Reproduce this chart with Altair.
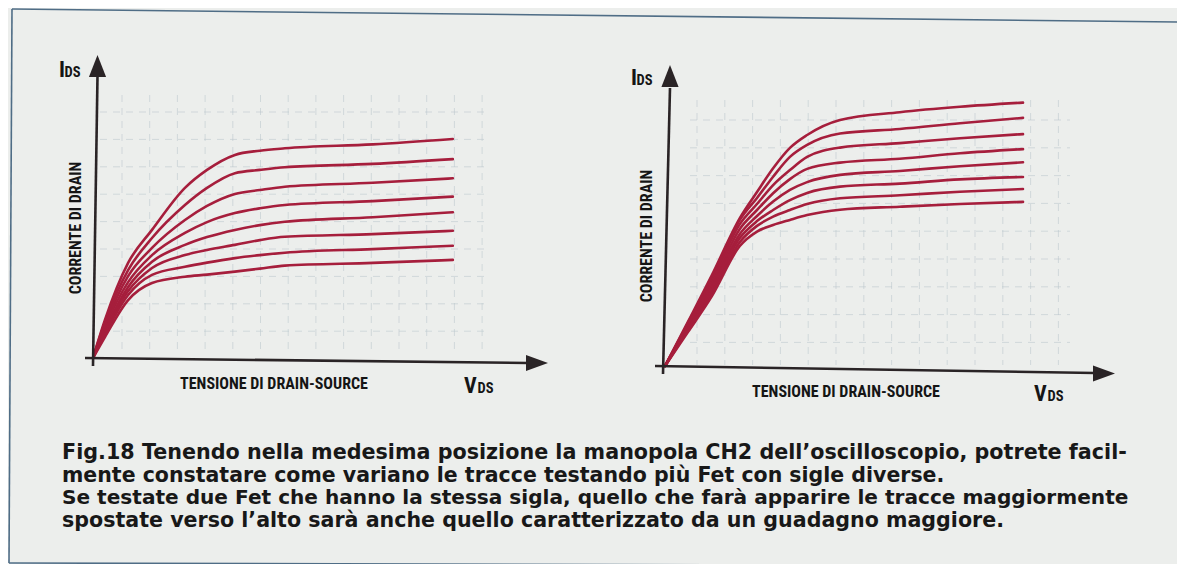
import altair as alt
import pandas as pd

W, H = 1169, 556
OFF = 8
BG = "#eceeec"
RED = "#a61e3c"
INK = "#2a2426"
COND = "Roboto Condensed, Liberation Sans, Arial, sans-serif"
CAPF = "DejaVu Sans, Liberation Sans, sans-serif"

# ---------------- data ----------------
# Panel 1 (left): Vds in arbitrary units (0..10), Ids in arbitrary units
vds1 = [0, 0.33, 0.97, 1.63, 2.54, 3.15, 3.92, 4.61, 5.30, 7.73, 9.94]
ids1 = [
    [0, 1.27, 3.17, 4.27, 5.67, 6.27, 6.77, 6.91, 6.99, 7.12, 7.30],
    [0, 1.20, 2.93, 4.00, 5.10, 5.67, 6.16, 6.27, 6.36, 6.47, 6.63],
    [0, 1.10, 2.73, 3.67, 4.60, 5.07, 5.47, 5.60, 5.71, 5.84, 5.99],
    [0, 1.03, 2.53, 3.43, 4.17, 4.53, 4.83, 4.99, 5.10, 5.23, 5.38],
    [0, 0.93, 2.37, 3.21, 3.77, 4.03, 4.27, 4.43, 4.54, 4.69, 4.86],
    [0, 0.87, 2.23, 3.00, 3.43, 3.60, 3.77, 3.93, 4.04, 4.13, 4.24],
    [0, 0.80, 2.10, 2.77, 3.04, 3.18, 3.33, 3.43, 3.51, 3.63, 3.74],
    [0, 0.70, 1.93, 2.50, 2.71, 2.78, 2.88, 2.98, 3.08, 3.17, 3.27],
]
# Panel 2 (right)
vds2 = [0, 0.64, 1.31, 2.09, 2.57, 3.02, 3.49, 3.97, 4.89, 6.56, 8.24, 10.0]
ids2 = [
    [0, 1.47, 3.03, 4.93, 5.80, 6.59, 7.27, 7.70, 8.20, 8.46, 8.64, 8.78],
    [0, 1.43, 2.93, 4.87, 5.60, 6.31, 6.97, 7.37, 7.75, 7.90, 8.09, 8.27],
    [0, 1.37, 2.83, 4.73, 5.40, 6.03, 6.53, 6.97, 7.28, 7.43, 7.59, 7.73],
    [0, 1.33, 2.73, 4.57, 5.20, 5.76, 6.23, 6.57, 6.78, 6.91, 7.09, 7.23],
    [0, 1.27, 2.63, 4.40, 5.00, 5.48, 5.87, 6.13, 6.37, 6.50, 6.66, 6.79],
    [0, 1.23, 2.53, 4.27, 4.83, 5.20, 5.53, 5.77, 5.98, 6.08, 6.22, 6.30],
    [0, 1.20, 2.43, 4.13, 4.67, 4.98, 5.20, 5.40, 5.59, 5.69, 5.81, 5.90],
    [0, 1.13, 2.33, 4.00, 4.48, 4.70, 4.87, 5.03, 5.21, 5.31, 5.40, 5.47],
]

caption = [
    "Fig.18 Tenendo nella medesima posizione la manopola CH2 dell’oscilloscopio, potrete facil-",
    "mente constatare come variano le tracce testando più Fet con sigle diverse.",
    "Se testate due Fet che hanno la stessa sigla, quello che farà apparire le tracce maggiormente",
    "spostate verso l’alto sarà anche quello caratterizzato da un guadagno maggiore.",
]
ylabel = "CORRENTE DI DRAIN"
xlabel = "TENSIONE DI DRAIN-SOURCE"


# ---------------- helpers ----------------
def panel(vds, curves, origin, ppx, ppy, xaxis_px, yaxis_px, xarrow_px, yarrow_px, gridx, gridy, gbox):
    ox, oy = origin
    ux = lambda p: (p - ox) / ppx
    uy = lambda p: (oy - p) / ppy
    xs = alt.Scale(domain=[ux(OFF), ux(OFF + W)], nice=False, zero=False)
    ys = alt.Scale(domain=[uy(OFF + H), uy(OFF)], nice=False, zero=False)

    rows = []
    for i, c in enumerate(curves):
        for v, a in zip(vds, c):
            rows.append({"curve": i, "V": v, "I": a})
    cdf = pd.DataFrame(rows)

    g = []
    x0, x1, y0, y1 = gbox
    for gx in gridx:
        g.append({"x": ux(gx), "x2": ux(gx), "y": uy(y0), "y2": uy(y1)})
    for gy in gridy:
        g.append({"x": ux(x0), "x2": ux(x1), "y": uy(gy), "y2": uy(gy)})
    gdf = pd.DataFrame(g)

    grid = alt.Chart(gdf).mark_rule(color="#b9c6cc", strokeWidth=1, opacity=0.55,
                                    strokeDash=[7, 6]).encode(
        x=alt.X("x:Q", scale=xs, axis=None), x2="x2:Q",
        y=alt.Y("y:Q", scale=ys, axis=None), y2="y2:Q")

    lines = alt.Chart(cdf).mark_line(color=RED, strokeWidth=2.6, interpolate="monotone",
                                     strokeCap="round").encode(
        x=alt.X("V:Q", scale=xs, axis=None),
        y=alt.Y("I:Q", scale=ys, axis=None),
        detail="curve:N")

    (ax0, ay0), (ax1, ay1) = xaxis_px
    (bx0, by0), (bx1, by1) = yaxis_px
    adf = pd.DataFrame([
        {"x": ux(ax0), "x2": ux(ax1), "y": uy(ay0), "y2": uy(ay1)},
        {"x": ux(bx0), "x2": ux(bx1), "y": uy(by0), "y2": uy(by1)},
    ])
    axes = alt.Chart(adf).mark_rule(color=INK, strokeWidth=2.6).encode(
        x=alt.X("x:Q", scale=xs, axis=None), x2="x2:Q",
        y=alt.Y("y:Q", scale=ys, axis=None), y2="y2:Q")

    xa = alt.Chart(pd.DataFrame([{"x": ux(xarrow_px[0]), "y": uy(xarrow_px[1])}])).mark_point(
        shape="M-1,-0.73L1,0L-1,0.73Z", size=484, filled=True, color=INK, opacity=1).encode(
        x=alt.X("x:Q", scale=xs, axis=None), y=alt.Y("y:Q", scale=ys, axis=None))
    ya = alt.Chart(pd.DataFrame([{"x": ux(yarrow_px[0]), "y": uy(yarrow_px[1])}])).mark_point(
        shape="M-0.78,1L0,-1L0.78,1Z", size=484, filled=True, color=INK, opacity=1).encode(
        x=alt.X("x:Q", scale=xs, axis=None), y=alt.Y("y:Q", scale=ys, axis=None))
    return alt.layer(grid, lines, axes, xa, ya)


def txt(s, px, py, size, font=COND, weight="bold", angle=0, align="left",
        baseline="alphabetic", color="#151515"):
    return alt.Chart(pd.DataFrame({"t": [s]})).mark_text(
        font=font, fontSize=size, fontWeight=weight, angle=angle, align=align,
        baseline=baseline, color=color).encode(
        x=alt.value(px - OFF), y=alt.value(py - OFF), text="t:N")


p1 = panel(vds1, ids1, (93, 358), 36.2, 30,
           ((85, 358), (528, 363)), ((93, 366), (97.5, 76)),
           (537, 363), (97.5, 66),
           [122 + 27.7 * k for k in range(14)], [112 + 27.4 * k for k in range(9)],
           (100, 490, 95, 352))
p2 = panel(vds2, ids2, (665, 366), 35.8, 30,
           ((655, 366), (1095, 373)), ((663, 374), (670, 88)),
           (1104, 373.5), (670, 76),
           [697 + 27.8 * k for k in range(14)], [120 + 27.8 * k for k in range(9)],
           (690, 1070, 100, 365))

texts = [
    # panel 1
    txt("I", 59, 77, 22), txt("DS", 64.5, 77, 14.5),
    txt(ylabel, 81, 228, 16, angle=270, align="center"),
    txt(xlabel, 274, 389, 16, align="center"),
    txt("V", 464, 393, 22), txt("DS", 477.5, 393, 14.5),
    # panel 2
    txt("I", 631, 85, 22), txt("DS", 636.5, 85, 14.5),
    txt(ylabel, 652, 236, 16, angle=270, align="center"),
    txt(xlabel, 846, 397, 16, align="center"),
    txt("V", 1034, 401, 22), txt("DS", 1047.5, 401, 14.5),
]
# the printed caption is justified: lines 1 and 3 span the same width
cap_sizes = [20.7, 20.5, 20.1, 20.6]
for i, line in enumerate(caption):
    texts.append(txt(line, 62, 459 + 22.7 * i, cap_sizes[i], font=CAPF, weight="bold",
                     color="#181818"))

border = alt.Chart(pd.DataFrame({
    "x": [12 - OFF, 12 - OFF, 9 - OFF],
    "x2": [1177 - OFF, 9 - OFF, 1177 - OFF],
    "y": [9 - OFF, 9 - OFF, 563 - OFF],
    "y2": [22 - OFF, 563 - OFF, 566 - OFF],
})).mark_rule(color="#4f6d86", strokeWidth=1.6).encode(
    x=alt.X("x:Q", scale=None), x2="x2:Q", y=alt.Y("y:Q", scale=None), y2="y2:Q")

chart = alt.layer(border, p1, p2, *texts).resolve_scale(
    x="independent", y="independent").properties(
    width=W, height=H, background=BG, padding=0,
    autosize=alt.AutoSizeParams(type="none")).configure_view(stroke=None)

chart.save("out.html", embed_options={"renderer": "svg", "actions": False})
